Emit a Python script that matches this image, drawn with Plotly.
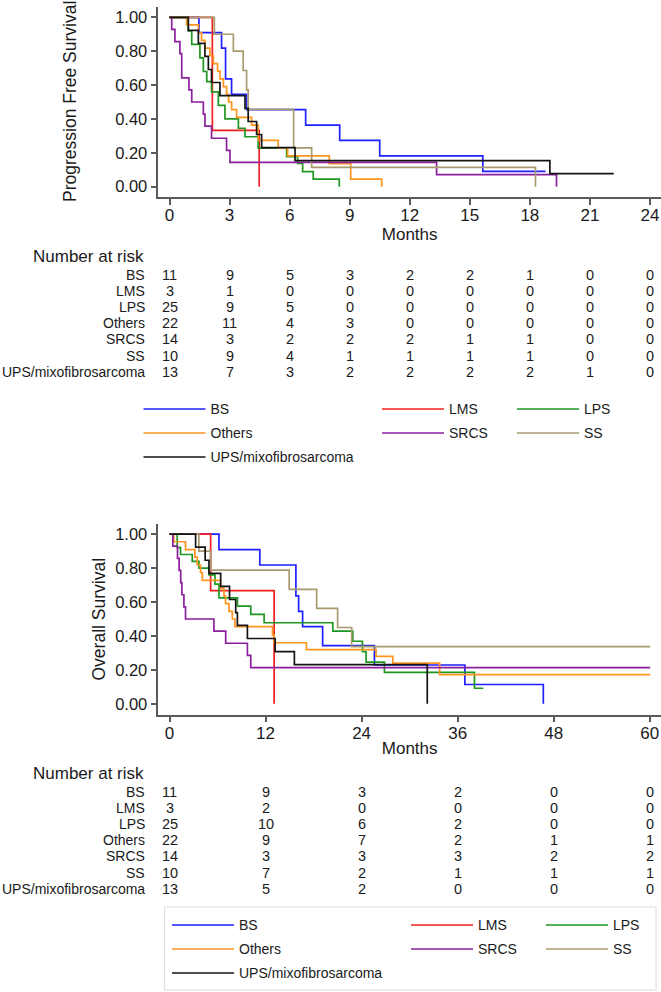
import plotly.graph_objects as go

W, H = 661, 992
FONT = "Liberation Sans, Arial, Helvetica, sans-serif"
TXT = "#1a1a1a"
AXC = "#5a5a5a"

GROUPS = ["BS", "LMS", "LPS", "Others", "SRCS", "SS", "UPS/mixofibrosarcoma"]
COLORS = ["#1f1fff", "#f21f1f", "#1f961f", "#ff951f", "#8c1f9e", "#a8996f", "#141414"]
LEGEND_COLUMN = [0, 1, 2, 0, 1, 2, 0]

# ---------------- Progression free survival (months, survival) ----------------
PFS_BS_T = [0, 1.47, 2.6, 2.8, 3.1, 3.85, 6.8, 8.5, 10.5, 15.65, 18.78]
PFS_BS_S = [1, 0.909, 0.818, 0.636, 0.545, 0.455, 0.364, 0.273, 0.182, 0.091, 0.091]
PFS_LMS_T = [0, 2.14, 4.48]
PFS_LMS_S = [1, 0.333, 0]
PFS_LPS_T = [0, 0.86, 0.94, 1.11, 1.52, 1.69, 1.86, 2.1, 2.44, 2.77, 3.44, 3.77, 4.43, 5.85, 6.4, 6.65, 7.18, 8.48]
PFS_LPS_S = [1, 0.96, 0.92, 0.84, 0.76, 0.68, 0.62, 0.56, 0.48, 0.40, 0.345, 0.295, 0.227, 0.177, 0.138, 0.089, 0.045, 0]
PFS_OTH_T = [0, 0.86, 1.44, 1.6, 1.77, 2.02, 2.19, 2.4, 2.52, 2.69, 2.85, 2.95, 3.1, 3.35, 4.1, 4.43, 5.43, 5.9, 7.98, 9.05, 10.6]
PFS_OTH_S = [1, 0.955, 0.909, 0.864, 0.818, 0.773, 0.727, 0.682, 0.636, 0.591, 0.545, 0.5, 0.455, 0.409, 0.364, 0.273, 0.227, 0.182, 0.136, 0.045, 0]
PFS_SRCS_T = [0, 0.11, 0.27, 0.52, 0.61, 0.97, 1.11, 1.69, 1.77, 2.1, 2.85, 3.02, 13.34, 19.33]
PFS_SRCS_S = [1, 0.929, 0.857, 0.786, 0.643, 0.571, 0.5, 0.429, 0.357, 0.286, 0.214, 0.143, 0.071, 0]
PFS_SS_T = [0, 2.24, 3.19, 3.68, 3.85, 3.93, 6.2, 7.1, 18.28]
PFS_SS_S = [1, 0.9, 0.8, 0.686, 0.571, 0.457, 0.229, 0.114, 0]
PFS_UPS_T = [0, 0.94, 1.44, 1.77, 1.94, 2.1, 2.52, 3.77, 3.93, 4.35, 4.6, 6.27, 19.0, 22.19]
PFS_UPS_S = [1, 0.923, 0.846, 0.769, 0.692, 0.615, 0.538, 0.462, 0.385, 0.308, 0.231, 0.154, 0.077, 0.077]

# ---------------- Overall survival (months, survival) ----------------
OS_BS_T = [0, 6.18, 11.28, 15.79, 16.13, 16.63, 19.13, 25.6, 36.9, 46.7]
OS_BS_S = [1, 0.909, 0.818, 0.636, 0.545, 0.455, 0.343, 0.229, 0.114, 0]
OS_LMS_T = [0, 5.14, 13.07]
OS_LMS_S = [1, 0.667, 0]
OS_LPS_T = [0, 0.96, 1.38, 2.84, 3.68, 4.93, 5.68, 6.18, 8.48, 10.15, 11.82, 20.4, 22.9, 24.1, 24.56, 26.85, 38.1, 39.2]
OS_LPS_S = [1, 0.92, 0.88, 0.84, 0.80, 0.76, 0.706, 0.625, 0.576, 0.527, 0.478, 0.428, 0.369, 0.308, 0.246, 0.185, 0.092, 0.092]
OS_OTH_T = [0, 0.54, 2.0, 3.17, 3.47, 3.88, 4.1, 6.39, 6.8, 7.0, 7.43, 7.85, 8.18, 12.87, 13.07, 17.1, 25.8, 27.9, 33.75, 60.05]
OS_OTH_S = [1, 0.955, 0.909, 0.864, 0.818, 0.773, 0.727, 0.682, 0.636, 0.591, 0.545, 0.5, 0.455, 0.405, 0.36, 0.32, 0.28, 0.24, 0.172, 0.172]
OS_SRCS_T = [0, 0.42, 1.0, 1.2, 1.4, 1.55, 1.8, 2.0, 5.55, 7.02, 9.73, 10.15, 60.05]
OS_SRCS_S = [1, 0.929, 0.857, 0.786, 0.714, 0.643, 0.571, 0.5, 0.429, 0.357, 0.286, 0.214, 0.214]
OS_SS_T = [0, 3.67, 5.14, 14.95, 18.38, 21.0, 22.76, 60.05]
OS_SS_S = [1, 0.9, 0.7875, 0.675, 0.5625, 0.45, 0.3375, 0.3375]
OS_UPS_T = [0, 3.26, 4.45, 4.93, 6.39, 7.5, 8.27, 8.48, 9.73, 13.2, 15.6, 32.2]
OS_UPS_S = [1, 0.923, 0.846, 0.769, 0.692, 0.615, 0.538, 0.462, 0.385, 0.308, 0.231, 0]

# ---------------- Number at risk ----------------
PFS_TICKS = [0, 3, 6, 9, 12, 15, 18, 21, 24]
PFS_RISK_BS = [11, 9, 5, 3, 2, 2, 1, 0, 0]
PFS_RISK_LMS = [3, 1, 0, 0, 0, 0, 0, 0, 0]
PFS_RISK_LPS = [25, 9, 5, 0, 0, 0, 0, 0, 0]
PFS_RISK_OTH = [22, 11, 4, 3, 0, 0, 0, 0, 0]
PFS_RISK_SRCS = [14, 3, 2, 2, 2, 1, 1, 0, 0]
PFS_RISK_SS = [10, 9, 4, 1, 1, 1, 1, 0, 0]
PFS_RISK_UPS = [13, 7, 3, 2, 2, 2, 2, 1, 0]

OS_TICKS = [0, 12, 24, 36, 48, 60]
OS_RISK_BS = [11, 9, 3, 2, 0, 0]
OS_RISK_LMS = [3, 2, 0, 0, 0, 0]
OS_RISK_LPS = [25, 10, 6, 2, 0, 0]
OS_RISK_OTH = [22, 9, 7, 2, 1, 1]
OS_RISK_SRCS = [14, 3, 3, 3, 2, 2]
OS_RISK_SS = [10, 7, 2, 1, 1, 1]
OS_RISK_UPS = [13, 5, 2, 0, 0, 0]

Y_TICKS = [0, 0.2, 0.4, 0.6, 0.8, 1.0]

PFS_T = [PFS_BS_T, PFS_LMS_T, PFS_LPS_T, PFS_OTH_T, PFS_SRCS_T, PFS_SS_T, PFS_UPS_T]
PFS_S = [PFS_BS_S, PFS_LMS_S, PFS_LPS_S, PFS_OTH_S, PFS_SRCS_S, PFS_SS_S, PFS_UPS_S]
OS_T = [OS_BS_T, OS_LMS_T, OS_LPS_T, OS_OTH_T, OS_SRCS_T, OS_SS_T, OS_UPS_T]
OS_S = [OS_BS_S, OS_LMS_S, OS_LPS_S, OS_OTH_S, OS_SRCS_S, OS_SS_S, OS_UPS_S]
PFS_RISK = [PFS_RISK_BS, PFS_RISK_LMS, PFS_RISK_LPS, PFS_RISK_OTH, PFS_RISK_SRCS, PFS_RISK_SS, PFS_RISK_UPS]
OS_RISK = [OS_RISK_BS, OS_RISK_LMS, OS_RISK_LPS, OS_RISK_OTH, OS_RISK_SRCS, OS_RISK_SS, OS_RISK_UPS]


def px(x):
    return x / W


def py(y):
    return 1 - y / H


fig = go.Figure()
top_legends = ["legend", "legend2", "legend3"]
bot_legends = ["legend4", "legend5", "legend6"]
for i, g in enumerate(GROUPS):
    fig.add_trace(go.Scatter(
        x=PFS_T[i], y=PFS_S[i], mode="lines", name=g,
        line=dict(shape="hv", color=COLORS[i], width=1.7),
        xaxis="x", yaxis="y", legend=top_legends[LEGEND_COLUMN[i]],
        legendgroup="pfs_" + g))
for i, g in enumerate(GROUPS):
    fig.add_trace(go.Scatter(
        x=OS_T[i], y=OS_S[i], mode="lines", name=g,
        line=dict(shape="hv", color=COLORS[i], width=1.7),
        xaxis="x2", yaxis="y2", legend=bot_legends[LEGEND_COLUMN[i]],
        legendgroup="os_" + g))

axis_common = dict(
    showline=True, linecolor=AXC, linewidth=1.5, ticks="outside", ticklen=6,
    tickwidth=1.5, tickcolor=AXC, showgrid=False, zeroline=False,
)
xdom = [px(158.3), 1.0]
fig.update_layout(
    width=W, height=H, margin=dict(l=0, r=0, t=0, b=0),
    paper_bgcolor="white", plot_bgcolor="white",
    font=dict(family=FONT, color=TXT),
    xaxis=dict(domain=xdom, range=[-0.56, 24.55], tickvals=PFS_TICKS, anchor="y",
               tickfont=dict(size=17, color=TXT), ticklabelstandoff=-4,
               title=dict(text="Months", standoff=0, font=dict(size=17, color=TXT)), **axis_common),
    yaxis=dict(domain=[py(197.3), py(6.7)], range=[-0.0626, 1.0626], tickvals=Y_TICKS,
               tickformat=".2f", anchor="x", tickfont=dict(size=16.5, color=TXT), **axis_common),
    xaxis2=dict(domain=xdom, range=[-1.4, 61.4], tickvals=OS_TICKS, anchor="y2",
                tickfont=dict(size=17, color=TXT), ticklabelstandoff=-4,
                title=dict(text="Months", standoff=0, font=dict(size=17, color=TXT)), **axis_common),
    yaxis2=dict(domain=[py(714.5), py(523.5)], range=[-0.0626, 1.0626], tickvals=Y_TICKS,
                tickformat=".2f", anchor="x2", tickfont=dict(size=16.5, color=TXT), **axis_common),
)

# legends: three columns per chart
leg_common = dict(orientation="v", xanchor="left", yanchor="top", bgcolor="rgba(0,0,0,0)",
                  borderwidth=0, font=dict(size=14, color=TXT), itemwidth=62,
                  traceorder="grouped", tracegroupgap=2.8)
top_cols = [138.5, 377, 512]
bot_cols = [167, 406, 541]
for k, name in enumerate(top_legends):
    fig.update_layout({name: dict(x=px(top_cols[k]), y=py(393.4), **leg_common)})
for k, name in enumerate(bot_legends):
    fig.update_layout({name: dict(x=px(bot_cols[k]), y=py(909.4), **leg_common)})

# light frame around the lower legend
fig.add_shape(type="rect", xref="paper", yref="paper", x0=px(164.6), x1=px(656),
              y0=py(990), y1=py(907), line=dict(color="#dcdcdc", width=1))

ann = []
# y-axis titles
ann.append(dict(text="Progression Free Survival", x=px(70), y=py(102), xref="paper", yref="paper",
                textangle=-90, showarrow=False, font=dict(size=17.5, color=TXT),
                xanchor="center", yanchor="middle"))
ann.append(dict(text="Overall Survival", x=px(98), y=py(619.5), xref="paper", yref="paper",
                textangle=-90, showarrow=False, font=dict(size=17.5, color=TXT),
                xanchor="center", yanchor="middle"))


def risk_table(top_y, xref, ticks, risk):
    ann.append(dict(text="Number at risk", x=px(145.6), y=py(top_y), xref="paper", yref="paper",
                    showarrow=False, xanchor="right", yanchor="middle", font=dict(size=17, color=TXT)))
    for i, g in enumerate(GROUPS):
        ry = top_y + 18.3 + 16.1 * i
        ann.append(dict(text=g, x=px(146.5), y=py(ry), xref="paper", yref="paper", showarrow=False,
                        xanchor="right", yanchor="middle", font=dict(size=14, color=TXT)))
        for t, n in zip(ticks, risk[i]):
            ann.append(dict(text=str(n), x=t, y=py(ry), xref=xref, yref="paper", showarrow=False,
                            xanchor="center", yanchor="middle", font=dict(size=14.5, color=TXT)))


risk_table(256.7, "x", PFS_TICKS, PFS_RISK)
risk_table(773.7, "x2", OS_TICKS, OS_RISK)
fig.update_layout(annotations=ann)

fig.write_html("out.html")
